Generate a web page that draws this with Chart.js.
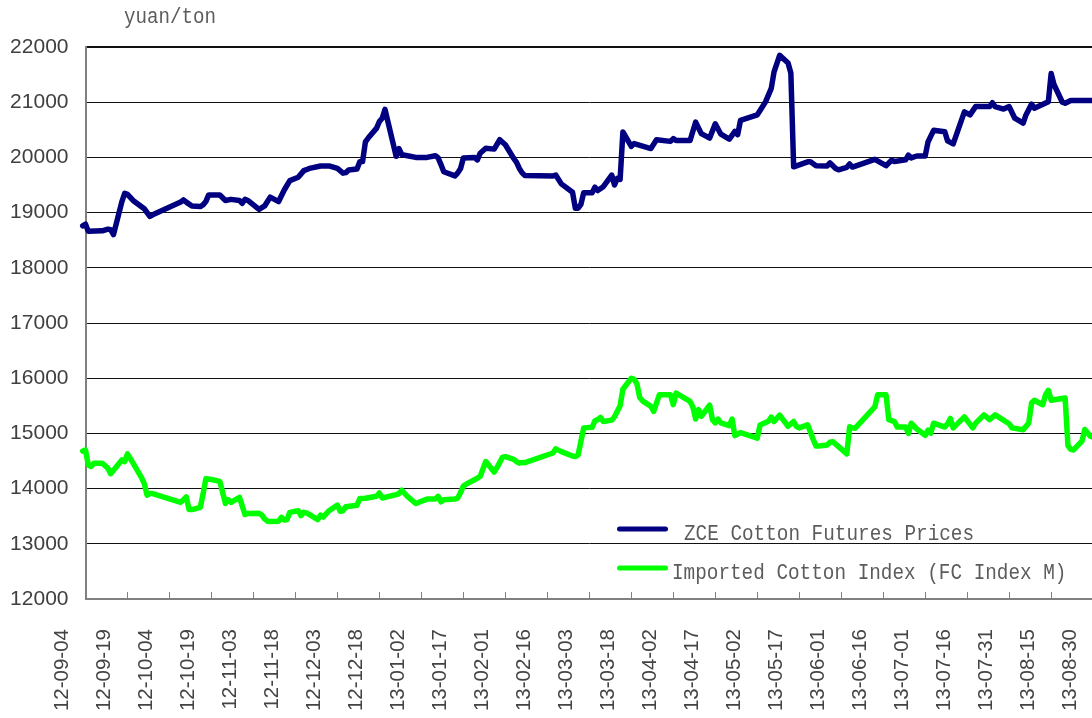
<!DOCTYPE html>
<html>
<head>
<meta charset="utf-8">
<script src="https://cdn.jsdelivr.net/npm/chart.js@4.4.1/dist/chart.umd.min.js"></script>
<style>
  html, body { margin: 0; padding: 0; background: #fff; overflow: hidden; }
  canvas { display: block; }
</style>
</head>
<body>
<canvas id="chart" width="1092" height="718"></canvas>
<script>
// ------ Datos ------
const tickLabels = ['12-09-04','12-09-19','12-10-04','12-10-19','12-11-03','12-11-18','12-12-03','12-12-18',
  '13-01-02','13-01-17','13-02-01','13-02-16','13-03-03','13-03-18','13-04-02','13-04-17','13-05-02',
  '13-05-17','13-06-01','13-06-16','13-07-01','13-07-16','13-07-31','13-08-15','13-08-30'];

const zceDates = ['12-09-03','12-09-04','12-09-05','12-09-10','12-09-12','12-09-13','12-09-14','12-09-17','12-09-18','12-09-19',
  '12-09-21','12-09-25','12-09-26','12-09-27','12-09-28','12-10-08','12-10-09','12-10-10','12-10-12','12-10-15',
  '12-10-16','12-10-17','12-10-18','12-10-22','12-10-24','12-10-26','12-10-29','12-10-30','12-10-31','12-11-01',
  '12-11-05','12-11-07','12-11-08','12-11-09','12-11-12','12-11-14','12-11-16','12-11-19','12-11-21','12-11-23',
  '12-11-27','12-11-30','12-12-03','12-12-05','12-12-06','12-12-07','12-12-10','12-12-11','12-12-12','12-12-13',
  '12-12-14','12-12-17','12-12-18','12-12-19','12-12-20','12-12-24','12-12-25','12-12-26','12-12-28','12-12-31',
  '13-01-04','13-01-07','13-01-08','13-01-09','13-01-10','13-01-14','13-01-15','13-01-16','13-01-17','13-01-21',
  '13-01-22','13-01-23','13-01-25','13-01-28','13-01-30','13-02-01','13-02-04','13-02-05','13-02-06','13-02-07',
  '13-02-08','13-02-18','13-02-19','13-02-21','13-02-25','13-02-26','13-02-27','13-02-28','13-03-01','13-03-04',
  '13-03-05','13-03-06','13-03-08','13-03-11','13-03-12','13-03-13','13-03-14','13-03-15','13-03-18','13-03-19',
  '13-03-25','13-03-26','13-03-27','13-04-01','13-04-02','13-04-03','13-04-08','13-04-10','13-04-12','13-04-15',
  '13-04-17','13-04-19','13-04-22','13-04-23','13-04-24','13-04-25','13-04-26','13-05-02','13-05-03','13-05-05',
  '13-05-07','13-05-08','13-05-10','13-05-13','13-05-14','13-05-15','13-05-20','13-05-21','13-05-23','13-05-27',
  '13-05-28','13-05-30','13-05-31','13-06-03','13-06-04','13-06-05','13-06-13','13-06-17','13-06-19','13-06-20',
  '13-06-24','13-06-25','13-06-26','13-06-28','13-07-01','13-07-02','13-07-04','13-07-08','13-07-09','13-07-11',
  '13-07-15','13-07-17','13-07-19','13-07-24','13-07-25','13-07-26','13-07-29','13-07-31','13-08-02','13-08-05',
  '13-08-06','13-08-08','13-08-09','13-08-14','13-08-15','13-08-16','13-08-19','13-08-20','13-08-22','13-08-26',
  '13-08-29','13-09-02'];
const zceValues = [18760,18790,18660,18670,18700,18690,18600,19200,19350,19330,
  19220,19070,19000,18930,18960,19190,19230,19190,19120,19110,
  19140,19200,19320,19320,19220,19240,19220,19170,19240,19220,
  19060,19120,19200,19280,19200,19410,19580,19640,19760,19800,
  19845,19845,19800,19715,19725,19770,19790,19920,19925,20280,
  20350,20530,20650,20710,20870,20020,20160,20050,20030,20000,
  20000,20030,19990,19870,19740,19665,19720,19800,19990,20000,
  19955,20075,20165,20150,20320,20230,19980,19910,19800,19720,
  19670,19665,19680,19520,19370,19080,19080,19150,19360,19360,
  19460,19400,19470,19680,19500,19620,19600,20460,20200,20250,
  20160,20240,20320,20290,20340,20305,20305,20640,20430,20350,
  20610,20420,20330,20400,20470,20410,20670,20770,20850,21010,
  21250,21550,21850,21710,21530,19830,19920,19920,19850,19845,
  19900,19800,19775,19820,19880,19825,19965,19850,19950,19925,
  19955,20040,19990,20025,20025,20280,20490,20465,20300,20245,
  20825,20770,20920,20920,20990,20920,20875,20920,20710,20620,
  20770,20965,20890,21010,21520,21320,21000,20980,21030,21030,
  21030,21030];

const fcDates = ['12-09-03','12-09-04','12-09-05','12-09-06','12-09-07','12-09-10','12-09-12','12-09-13','12-09-17','12-09-18',
  '12-09-19','12-09-21','12-09-24','12-09-25','12-09-26','12-09-27','12-09-28','12-10-08','12-10-10','12-10-11',
  '12-10-12','12-10-15','12-10-16','12-10-17','12-10-19','12-10-22','12-10-24','12-10-25','12-10-26','12-10-29',
  '12-10-31','12-11-01','12-11-05','12-11-06','12-11-07','12-11-08','12-11-09','12-11-12','12-11-13','12-11-14',
  '12-11-15','12-11-16','12-11-19','12-11-20','12-11-21','12-11-22','12-11-26','12-11-27','12-11-28','12-11-30',
  '12-12-03','12-12-04','12-12-05','12-12-06','12-12-10','12-12-11','12-12-13','12-12-17','12-12-18','12-12-19',
  '12-12-24','12-12-25','12-12-26','12-12-28','12-12-31','13-01-04','13-01-07','13-01-08','13-01-09','13-01-10',
  '13-01-14','13-01-15','13-01-16','13-01-17','13-01-18','13-01-21','13-01-23','13-01-25','13-01-28','13-01-29',
  '13-01-31','13-02-01','13-02-04','13-02-05','13-02-06','13-02-07','13-02-08','13-02-18','13-02-19','13-02-21',
  '13-02-25','13-02-26','13-02-27','13-03-01','13-03-04','13-03-05','13-03-06','13-03-07','13-03-08','13-03-11',
  '13-03-12','13-03-14','13-03-15','13-03-18','13-03-19','13-03-20','13-03-21','13-03-22','13-03-25','13-03-26',
  '13-03-28','13-04-01','13-04-02','13-04-03','13-04-08','13-04-09','13-04-10','13-04-11','13-04-12','13-04-15',
  '13-04-16','13-04-17','13-04-18','13-04-19','13-04-22','13-04-23','13-04-24','13-04-26','13-05-02','13-05-03',
  '13-05-06','13-05-07','13-05-08','13-05-10','13-05-13','13-05-15','13-05-16','13-05-17','13-05-20','13-05-22',
  '13-05-23','13-05-24','13-05-27','13-05-28','13-05-29','13-06-03','13-06-04','13-06-05','13-06-06','13-06-13',
  '13-06-14','13-06-17','13-06-18','13-06-20','13-06-21','13-06-24','13-06-25','13-06-26','13-06-28','13-07-01',
  '13-07-02','13-07-03','13-07-04','13-07-08','13-07-09','13-07-10','13-07-11','13-07-15','13-07-18','13-07-19',
  '13-07-22','13-07-24','13-07-26','13-07-31','13-08-01','13-08-05','13-08-07','13-08-08','13-08-09','13-08-12',
  '13-08-13','13-08-14','13-08-15','13-08-20','13-08-21','13-08-22','13-08-23','13-08-26','13-08-27','13-08-29',
  '13-08-30'];
const fcValues = [14680,14700,14430,14400,14460,14460,14370,14270,14520,14490,
  14630,14460,14200,14090,13880,13910,13910,13750,13850,13620,
  13620,13660,13900,14180,14165,14130,13730,13800,13750,13840,
  13530,13550,13555,13520,13450,13410,13405,13410,13480,13430,
  13440,13570,13600,13510,13570,13560,13440,13520,13485,13600,
  13700,13590,13600,13670,13700,13820,13825,13860,13920,13830,
  13890,13910,13970,13860,13730,13810,13810,13860,13760,13800,
  13810,13830,13930,14045,14080,14160,14220,14490,14300,14380,
  14570,14580,14530,14490,14460,14475,14470,14645,14720,14670,
  14590,14580,14610,15100,15110,15230,15250,15290,15215,15240,
  15300,15500,15800,16000,15980,15900,15650,15590,15490,15400,
  15700,15700,15520,15730,15580,15480,15260,15430,15310,15510,
  15250,15190,15260,15190,15140,15260,14960,15015,14915,15150,
  15220,15295,15215,15330,15130,15215,15125,15100,15155,14890,
  14770,14770,14790,14840,14850,14630,15120,15100,15095,15480,
  15700,15700,15250,15215,15115,15115,15000,15185,15080,14965,
  15060,15005,15185,15115,15175,15270,15100,15300,15100,15185,
  15335,15250,15335,15175,15100,15065,15190,15550,15600,15520,
  15700,15780,15600,15640,14780,14710,14700,14860,15070,14950,
  14930];

const seriesNames = ['ZCE Cotton Futures Prices', 'Imported Cotton Index (FC Index M)'];
const seriesColors = ['#000080', '#00ff00'];
const unitLabel = 'yuan/ton';

// ------ Utilidades ------
const DAY0 = Date.UTC(2012, 8, 4);
const dayOf = s => {
  const [y, m, d] = s.split('-').map(Number);
  return (Date.UTC(2000 + y, m - 1, d) - DAY0) / 864e5;
};
const toPoints = (dates, vals) => dates.map((d, i) => ({ x: dayOf(d), y: vals[i] }));

// marco del gráfico (px)
const AREA_LEFT = 85.5, AREA_TOP = 47, AREA_BOTTOM = 599, W = 1092, H = 718;
const PX_PER_DAY = 2.799;

// texto monoespaciado estrecho (como SimSun)
function monoText(ctx, text, x, y, size, advance) {
  ctx.save();
  ctx.font = size + 'px "Liberation Mono", monospace';
  ctx.translate(x, y);
  ctx.scale(advance / (0.6 * size), 1);
  ctx.fillText(text, 0, 0);
  ctx.restore();
}

// ------ Plugins ------
const innerTicks = {
  id: 'innerTicks',
  beforeDatasetsDraw(chart) {
    const { ctx, chartArea } = chart;
    const x = chart.scales.x;
    ctx.save();
    ctx.strokeStyle = '#808080';
    ctx.lineWidth = 1;
    x.ticks.forEach(t => {
      const px = Math.round(x.getPixelForValue(t.value)) + 0.5;
      if (px > chartArea.right) return;
      ctx.beginPath();
      ctx.moveTo(px, chartArea.bottom);
      ctx.lineTo(px, chartArea.bottom - 7);
      ctx.stroke();
    });
    ctx.restore();
  }
};

const insideLegend = {
  id: 'insideLegend',
  afterDraw(chart) {
    const { ctx } = chart;
    const rows = [{ ly: 529, ty: 540, tx: 684 }, { ly: 568, ty: 579, tx: 672 }];
    ctx.save();
    ctx.lineCap = 'round';
    ctx.lineWidth = 5;
    ctx.fillStyle = '#5c5c5c';
    ctx.textBaseline = 'alphabetic';
    chart.data.datasets.forEach((ds, i) => {
      const r = rows[i];
      ctx.strokeStyle = ds.borderColor;
      ctx.beginPath();
      ctx.moveTo(619.5, r.ly);
      ctx.lineTo(665.5, r.ly);
      ctx.stroke();
      monoText(ctx, ds.label, r.tx, r.ty, 22, 11.6);
    });
    monoText(ctx, unitLabel, 124, 23, 22, 11.5);
    ctx.restore();
  }
};

// ------ Chart.js ------
Chart.defaults.font.family = '"Liberation Sans", Arial, sans-serif';

const lineStyle = {
  borderWidth: 5.5,
  pointRadius: 0,
  tension: 0,
  borderJoinStyle: 'round',
  borderCapStyle: 'round',
  clip: { left: 8, top: 0, right: 0, bottom: 0 }
};

new Chart(document.getElementById('chart'), {
  type: 'line',
  data: {
    datasets: [
      { ...lineStyle, label: seriesNames[0], data: toPoints(zceDates, zceValues), borderColor: seriesColors[0] },
      { ...lineStyle, label: seriesNames[1], data: toPoints(fcDates, fcValues), borderColor: seriesColors[1] }
    ]
  },
  options: {
    responsive: false,
    animation: false,
    devicePixelRatio: 1,
    layout: { padding: { top: AREA_TOP, left: 0, right: 0, bottom: 0 }, autoPadding: false },
    plugins: { legend: { display: false }, tooltip: { enabled: false } },
    scales: {
      x: {
        type: 'linear',
        min: 0,
        max: (W - AREA_LEFT) / PX_PER_DAY,
        afterBuildTicks: s => { s.ticks = tickLabels.map(t => ({ value: dayOf(t) })); },
        afterFit: s => { s.height = H - AREA_BOTTOM; s.paddingLeft = 0; s.paddingRight = 0; },
        grid: { display: false, drawTicks: false },
        border: { display: true, color: '#808080', width: 2 },
        ticks: {
          autoSkip: false, minRotation: 90, maxRotation: 90,
          labelOffset: -23, padding: 30,
          color: '#444', font: { size: 20.5 },
          callback: (v, i) => tickLabels[i]
        }
      },
      y: {
        min: 12000,
        max: 22000,
        afterFit: s => { s.width = AREA_LEFT; s.paddingTop = 0; s.paddingBottom = 0; },
        ticks: { stepSize: 1000, padding: 17, color: '#404040', font: { size: 21 }, callback: v => String(v) },
        grid: {
          drawTicks: false,
          color: c => (c.tick && c.tick.value === 12000) ? 'rgba(0,0,0,0)' : '#111',
          lineWidth: c => (c.tick && c.tick.value === 22000) ? 2 : 1
        },
        border: { display: true, color: '#808080', width: 2 }
      }
    }
  },
  plugins: [innerTicks, insideLegend]
});
</script>
</body>
</html>
